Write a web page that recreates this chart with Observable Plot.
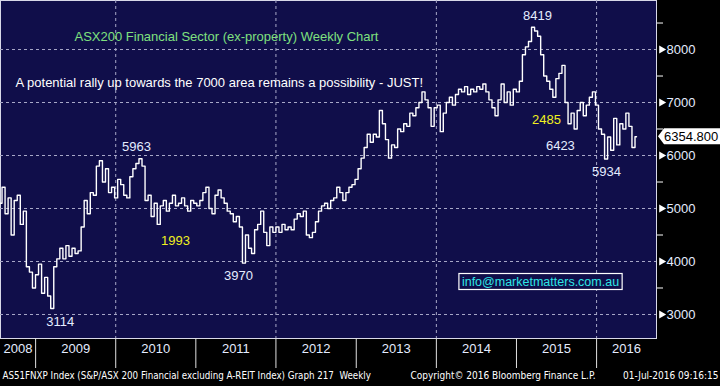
<!DOCTYPE html>
<html><head><meta charset="utf-8">
<script src="https://cdn.jsdelivr.net/npm/d3@7"></script>
<script src="https://cdn.jsdelivr.net/npm/@observablehq/plot@0.6"></script>
<style>
html,body{margin:0;padding:0;background:#000;}
#chart svg{display:block}
</style>
</head><body><div id="chart"></div>
<script>
// ---- data ----
const seriesStart = "2008-07-25";
const seriesEnd = "2016-07-01";
const closes = [
 5100,5400,4900,5200,4500,5150,5250,4700,4950,3900,
 3800,3500,3750,3950,3400,3700,3350,3114,3900,4050,
 4250,4050,4300,4100,4250,4150,4200,4650,5150,4900,
 5300,5250,5800,5900,5500,5750,5300,5400,5200,5550,
 5450,5250,5200,5600,5750,5850,5940,5800,5150,5250,
 4850,5100,4700,5050,5150,4950,5100,5250,5050,5100,
 5200,5050,4950,5150,5100,5050,5150,5300,5400,5000,
 4900,5250,5350,5200,5100,4950,4900,4750,4850,4650,
 3970,4500,4250,4150,4600,4700,4950,4550,4300,4650,
 4550,4650,4550,4700,4600,4650,4600,4800,4900,4850,
 4950,4500,4450,4550,4750,4950,5050,5100,5000,5150,
 5200,5400,5300,5150,5300,5400,5450,5550,5750,5950,
 6150,6400,6250,6400,6350,6850,6600,6300,5950,6200,
 6150,6500,6450,6600,6550,6800,6750,6900,7000,7200,
 7050,6900,6550,6900,6950,6450,6800,7000,7100,6950,
 7150,7250,7200,7300,7150,7250,7200,7300,7250,7350,
 7200,7050,6900,6750,7050,7350,7000,7200,6950,7250,
 7200,7400,7900,8050,8150,8419,8350,8250,7900,7500,
 7400,7250,7100,7450,7550,7700,7000,6600,6800,6500,
 6850,7000,6750,6950,7100,7200,6950,6500,6400,5934,
 6350,6100,6700,6200,6600,6500,6800,6550,6150,6354.8
];
const lastPrice = 6354.8;
const yMajorTicks = [3000,4000,5000,6000,7000,8000];
const yMinorTicks = [3500,4500,5500,6500,7500,8500];
const years = [2008,2009,2010,2011,2012,2013,2014,2015,2016];
const gridYears = [2010,2012,2014,2016];
const extremeLabels = [
  {text:"8419", date:"2015-04-07", value:8419, kind:"high"},
  {text:"5963", date:"2010-04-06", value:5963, kind:"high"},
  {text:"3114", date:"2009-04-23", value:3114, kind:"low"},
  {text:"3970", date:"2011-07-14", value:3970, kind:"low"},
  {text:"6423", date:"2015-07-20", value:6423, kind:"low"},
  {text:"5934", date:"2016-02-15", value:5934, kind:"low"}
];
const rangeLabels = [
  {text:"1993", date:"2010-09-30", value:4396},
  {text:"2485", date:"2015-05-18", value:6680}
];
const titleText = "ASX200 Financial Sector (ex-property) Weekly Chart";
const subtitleText = "A potential rally up towards the 7000 area remains a possibility - JUST!";
const infoText = "info@marketmatters.com.au";
const footerLeft = "AS51FNXP Index (S&P/ASX 200 Financial excluding A-REIT Index) Graph 217  Weekly";
const footerMid = "Copyright\u00A9 2016 Bloomberg Finance L.P.";
const footerRight = "01-Jul-2016 09:16:15";
const xDomain = ["2008-07-25", "2016-09-30"];
const yDomain = [2547, 8925];

// ---- build ----
const t0 = new Date(seriesStart), t1 = new Date(seriesEnd);
const data = closes.map((v, i) => ({
  date: new Date(+t0 + (t1 - t0) * i / (closes.length - 1)),
  close: v
}));
const dom = xDomain.map(d => new Date(d));
const yearStarts = years.slice(1).map(y => new Date(y, 0, 1));
const yearMid = years.map(y => {
  const a = Math.max(+new Date(y, 0, 1), +dom[0]);
  const b = Math.min(+new Date(y + 1, 0, 1), +dom[1]);
  return {year: String(y), date: new Date((a + b) / 2)};
});
const navy = "#100e4a";
const grid = "#a8a8c8";
const labelCol = "#e4ecff";
const FONT = "'Liberation Sans', Arial, sans-serif";
const NARROW = "'DejaVu Sans Condensed', 'Liberation Sans Narrow', 'Arial Narrow', sans-serif";

const chart = Plot.plot({
  width: 720, height: 386,
  marginLeft: 0, marginRight: 64, marginTop: 0, marginBottom: 48,
  style: {background: "#000", color: "white", fontFamily: FONT, fontSize: "13px"},
  x: {type: "time", domain: dom},
  y: {domain: yDomain},
  marks: [
    Plot.frame({fill: navy, stroke: "#d8d8e8"}),
    Plot.ruleY(yMajorTicks, {y: d => d, stroke: grid, strokeDasharray: "3,3", strokeWidth: 1}),
    Plot.ruleX(gridYears.map(y => new Date(y, 0, 1)), {x: d => d, stroke: grid, strokeDasharray: "3,3", strokeWidth: 1}),
    Plot.lineY(data, {x: "date", y: "close", curve: "step", stroke: "white", strokeWidth: 1.4, clip: true}),
    // right axis
    Plot.axisY({anchor: "right", ticks: yMinorTicks, tickSize: 6, tickFormat: () => "", label: null, stroke: "white"}),
    Plot.dot(yMajorTicks, {y: d => d, frameAnchor: "right", dx: 5, symbol: "triangle", r: 3, rotate: 90, fill: "white", stroke: null}),
    Plot.text(yMajorTicks, {y: d => d, text: d => String(d), frameAnchor: "right", dx: 10, textAnchor: "start", fill: labelCol, fontSize: 13, fontFamily: FONT}),
    // bottom year strip
    Plot.axisX({anchor: "bottom", ticks: yearStarts, tickSize: 30, tickFormat: () => "", label: null, stroke: "#e0e0e0"}),
    Plot.text(yearMid, {x: "date", text: "year", frameAnchor: "bottom", dy: 14, fill: labelCol, fontSize: 13, fontFamily: FONT}),
    Plot.text([footerLeft], {text: d => d, frameAnchor: "bottom-left", dx: 2, dy: 40, textAnchor: "start", fill: "white", fontSize: 9.7, fontFamily: NARROW}),
    Plot.text([footerMid], {text: d => d, frameAnchor: "bottom-left", dx: 410, dy: 40, textAnchor: "start", fill: "white", fontSize: 10, fontFamily: NARROW}),
    Plot.text([footerRight], {text: d => d, frameAnchor: "bottom-right", dx: 62, dy: 40, textAnchor: "end", fill: "white", fontSize: 10, fontFamily: NARROW}),
    // titles
    Plot.text([titleText], {text: d => d, frameAnchor: "top-left", dx: 74, dy: 31, textAnchor: "start", fill: "#7fe07f", fontSize: 13, fontFamily: FONT}),
    Plot.text([subtitleText], {text: d => d, frameAnchor: "top-left", dx: 15, dy: 77, textAnchor: "start", fill: "white", fontSize: 13, fontFamily: FONT}),
    // annotations
    Plot.text(extremeLabels.filter(d => d.kind === "high"), {x: d => new Date(d.date), y: "value", text: "text", dy: -11, fill: labelCol, fontSize: 13, fontFamily: FONT}),
    Plot.text(extremeLabels.filter(d => d.kind === "low"), {x: d => new Date(d.date), y: "value", text: "text", dy: 13, fill: labelCol, fontSize: 13, fontFamily: FONT}),
    Plot.text(rangeLabels, {x: d => new Date(d.date), y: "value", text: "text", fill: "#f0f020", fontSize: 13, fontFamily: FONT}),
    Plot.text([infoText], {text: d => d, frameAnchor: "bottom-right", dx: -116, dy: -53, textAnchor: "middle", fill: "#2fe6e6", fontSize: 12.5, fontFamily: FONT})
  ]
});
document.getElementById("chart").appendChild(chart);

// price tag on the right axis, positioned through the chart's own scales
const svg = d3.select(chart);
const yS = chart.scale("y"), xS = chart.scale("x");
const py = yS.apply(lastPrice);
const px = xS.range[1];
const tag = svg.append("g");
tag.append("path")
  .attr("d", `M${px + 2},${py} L${px + 8},${py - 8} L720,${py - 8} L720,${py + 8} L${px + 8},${py + 8} Z`)
  .attr("fill", "white");
tag.append("text").attr("x", px + 8).attr("y", py).attr("dy", "0.35em")
  .attr("text-anchor", "start")
  .attr("fill", "black").attr("font-size", 13).attr("font-family", FONT)
  .text(lastPrice.toFixed(3));

// info box outline
const infoNode = Array.from(chart.querySelectorAll("text")).find(t => t.textContent === infoText);
if (infoNode) {
  const bb = infoNode.getBBox();
  d3.select(infoNode.parentNode).insert("rect", () => infoNode)
    .attr("x", bb.x - 3).attr("y", bb.y - 1).attr("width", bb.width + 6).attr("height", bb.height + 2)
    .attr("fill", navy).attr("stroke", "white").attr("stroke-width", 1.2)
    .attr("transform", infoNode.getAttribute("transform"));
}
</script>
</body></html>
